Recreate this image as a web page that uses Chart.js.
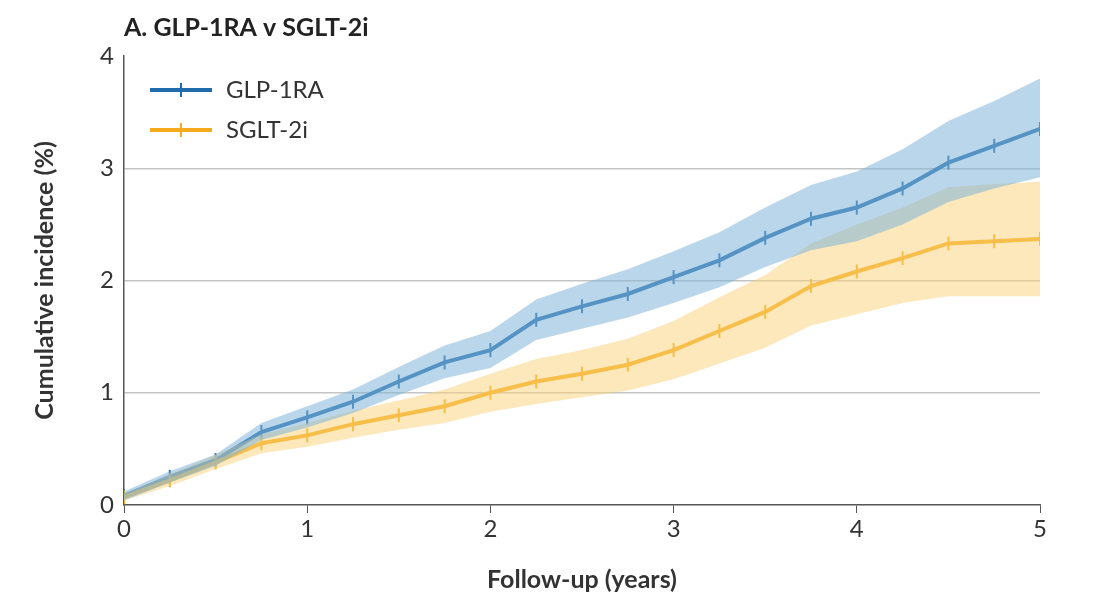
<!DOCTYPE html>
<html>
<head>
<meta charset="utf-8">
<script src="https://cdn.jsdelivr.net/npm/chart.js@4"></script>
<style>
  body { margin: 0; background: #fff; }
  #wrap { width: 1107px; height: 599px; }
</style>
</head>
<body>
<div id="wrap"><canvas id="km"></canvas></div>
<script>
// follow-up times (years)
const years = [0, 0.25, 0.5, 0.75, 1, 1.25, 1.5, 1.75, 2, 2.25, 2.5, 2.75, 3, 3.25, 3.5, 3.75, 4, 4.25, 4.5, 4.75, 5];

// GLP-1RA cumulative incidence (%) with 95% CI
const glpEst = [0.08, 0.25, 0.40, 0.65, 0.78, 0.92, 1.10, 1.27, 1.38, 1.65, 1.77, 1.88, 2.03, 2.18, 2.38, 2.55, 2.65, 2.82, 3.05, 3.20, 3.35];
const glpUp  = [0.12, 0.30, 0.45, 0.73, 0.88, 1.03, 1.23, 1.42, 1.55, 1.83, 1.97, 2.10, 2.26, 2.43, 2.65, 2.85, 2.97, 3.17, 3.42, 3.60, 3.80];
const glpLo  = [0.04, 0.20, 0.35, 0.58, 0.69, 0.82, 0.98, 1.13, 1.22, 1.47, 1.57, 1.67, 1.80, 1.94, 2.12, 2.27, 2.35, 2.50, 2.70, 2.82, 2.92];

// SGLT-2i cumulative incidence (%) with 95% CI
const sgltEst = [0.07, 0.22, 0.38, 0.55, 0.62, 0.72, 0.80, 0.88, 1.00, 1.10, 1.17, 1.25, 1.38, 1.55, 1.72, 1.95, 2.08, 2.20, 2.33, 2.35, 2.37];
const sgltUp  = [0.10, 0.27, 0.45, 0.63, 0.73, 0.84, 0.93, 1.03, 1.17, 1.30, 1.38, 1.48, 1.64, 1.85, 2.05, 2.33, 2.50, 2.65, 2.83, 2.86, 2.88];
const sgltLo  = [0.04, 0.17, 0.32, 0.46, 0.52, 0.60, 0.67, 0.73, 0.83, 0.90, 0.96, 1.02, 1.12, 1.26, 1.40, 1.60, 1.70, 1.80, 1.86, 1.86, 1.86];

const xTicks = [0, 1, 2, 3, 4, 5];
const yTicks = [0, 1, 2, 3, 4];

const blue = '#1f6bab';
const orange = '#f4aa1a';
const font = 'Lato, "Open Sans", sans-serif';

function pts(vals) {
    return years.map((x, i) => ({ x: x, y: vals[i] }));
}

function band(vals, color, fill) {
    return {
        data: pts(vals), borderWidth: 0, pointRadius: 0, tension: 0,
        backgroundColor: color, fill: fill
    };
}

function curve(label, vals, color) {
    return {
        label: label, data: pts(vals), borderColor: color, borderWidth: 4, tension: 0,
        pointStyle: 'line', rotation: 90, pointRadius: 7, pointBorderWidth: 2,
        pointBorderColor: color, fill: false
    };
}

const overlay = {
    id: 'overlay',
    afterDraw(chart) {
        const c = chart.ctx, a = chart.chartArea;
        c.save();
        c.fillStyle = '#222';
        c.font = 'bold 25px ' + font;
        c.textBaseline = 'middle';
        c.fillText('A. GLP-1RA v SGLT-2i', a.left, 28);
        const items = [['GLP-1RA', blue], ['SGLT-2i', orange]];
        items.forEach((it, i) => {
            const y = 90 + i * 40;
            c.strokeStyle = it[1];
            c.lineWidth = 4;
            c.beginPath(); c.moveTo(150, y); c.lineTo(212, y); c.stroke();
            c.lineWidth = 2;
            c.beginPath(); c.moveTo(181, y - 7); c.lineTo(181, y + 7); c.stroke();
            c.fillStyle = '#333';
            c.font = '24px ' + font;
            c.fillText(it[0], 226, y);
        });
        c.restore();
    }
};

const config = {
    type: 'line',
    data: {
        datasets: [
            band(glpUp, 'rgba(130,180,216,0.55)', false),
            band(glpLo, 'rgba(130,180,216,0.55)', '-1'),
            band(sgltUp, 'rgba(249,210,120,0.5)', false),
            band(sgltLo, 'rgba(249,210,120,0.5)', '-1'),
            curve('SGLT-2i', sgltEst, orange),
            curve('GLP-1RA', glpEst, blue)
        ]
    },
    options: {
        responsive: true,
        maintainAspectRatio: false,
        animation: false,
        layout: { padding: { top: 56, right: 67, left: 0, bottom: 0 } },
        plugins: { legend: { display: false }, tooltip: { enabled: false } },
        scales: {
            x: {
                type: 'linear', min: 0, max: 5,
                afterFit(s) { s.height = 94; },
                afterBuildTicks(s) { s.ticks = xTicks.map(v => ({ value: v })); },
                grid: { drawOnChartArea: false, tickLength: 8, color: '#555' },
                border: { color: '#555', width: 1.5 },
                ticks: { color: '#333', font: { family: font, size: 24 }, padding: 2 },
                title: { display: true, text: 'Follow-up (years)', color: '#333',
                         font: { family: font, size: 25, weight: 'bold' }, padding: { top: 14 } }
            },
            y: {
                min: 0, max: 4,
                afterFit(s) { s.width = 124; },
                afterBuildTicks(s) { s.ticks = yTicks.map(v => ({ value: v })); },
                grid: {
                    color: ctx => (ctx.tick && ctx.tick.value > 0 && ctx.tick.value < 4) ? '#c4c4c4' : 'rgba(0,0,0,0)',
                    lineWidth: 1.5, drawTicks: false
                },
                border: { color: '#555', width: 1.5 },
                ticks: { color: '#333', font: { family: font, size: 24 }, padding: 10 },
                title: { display: true, text: 'Cumulative incidence (%)', color: '#333',
                         font: { family: font, size: 25, weight: 'bold' }, padding: { top: 30, bottom: 4 } }
            }
        }
    },
    plugins: [overlay]
};

new Chart(document.getElementById('km').getContext('2d'), config);
</script>
</body>
</html>
